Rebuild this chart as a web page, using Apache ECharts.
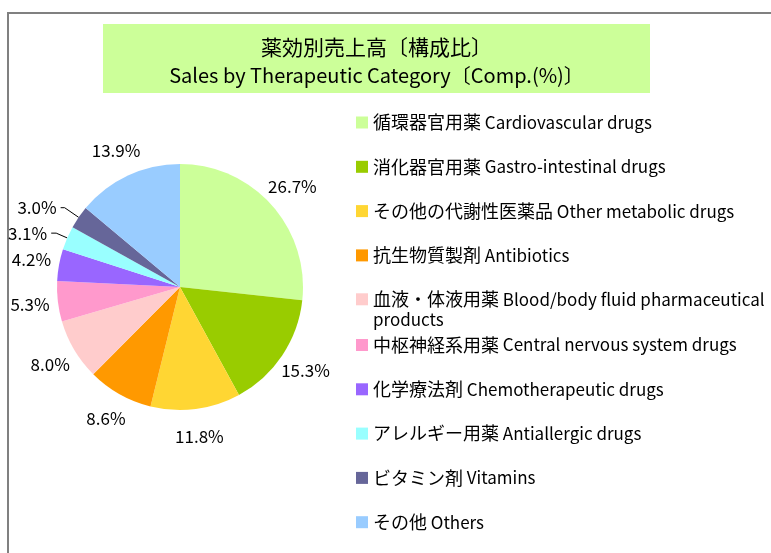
<!DOCTYPE html>
<html>
<head>
<meta charset="utf-8">
<script src="https://cdn.jsdelivr.net/npm/echarts@6/dist/echarts.min.js"></script>
<style>
  html, body { margin: 0; padding: 0; background: #fff; }
  #chart { width: 771px; height: 553px; }
</style>
</head>
<body>
<div id="chart"></div>
<script>
const titleJa = '薬効別売上高〔構成比〕';
const titleEn = 'Sales by Therapeutic Category〔Comp.(%)〕';

const categoriesJa = [
    '循環器官用薬', '消化器官用薬', 'その他の代謝性医薬品', '抗生物質製剤', '血液・体液用薬',
    '中枢神経系用薬', '化学療法剤', 'アレルギー用薬', 'ビタミン剤', 'その他'
];
const categoriesEn = [
    'Cardiovascular drugs', 'Gastro-intestinal drugs', 'Other metabolic drugs', 'Antibiotics',
    'Blood/body fluid pharmaceutical products', 'Central nervous system drugs',
    'Chemotherapeutic drugs', 'Antiallergic drugs', 'Vitamins', 'Others'
];
const shares = [26.7, 15.3, 11.8, 8.6, 8.0, 5.3, 4.2, 3.1, 3.0, 13.9];
const colors = ['#CCFF99', '#99CC00', '#FFD633', '#FF9900', '#FFCCCC',
                '#FF99CC', '#9966FF', '#99FFFF', '#666699', '#99CCFF'];
// small slices whose labels sit out on a leader line: [index, length, length2]
const lineLabelled = [[7, 12, 5], [8, 17, 4]];

const categories = categoriesJa.map(function (ja, i) { return ja + ' ' + categoriesEn[i]; });

const font = '"Noto Sans CJK JP", "Noto Sans", sans-serif';
const pieCenter = [180, 287];
const pieRadius = 123;

document.addEventListener('DOMContentLoaded', function () {
    const myChart = echarts.init(document.getElementById('chart'));

    const fmt = function (p) { return p.value.toFixed(1) + '%'; };

    const findLine = function (i) {
        return lineLabelled.find(function (l) { return l[0] === i; });
    };

    const sliceData = categories.map(function (name, i) {
        const item = { name: name, value: shares[i], itemStyle: { color: colors[i] } };
        const l = findLine(i);
        if (l) {
            item.label = { show: true, position: 'outside' };
            item.labelLine = { show: true, length: l[1], length2: l[2] };
        }
        return item;
    });

    const labelData = categories.map(function (name, i) {
        const item = { name: name, value: shares[i] };
        if (findLine(i)) item.label = { show: false };
        return item;
    });

    // japanese part drawn a little larger, like the original font
    const legendFmt = function (name) {
        const i = categories.indexOf(name);
        let en = categoriesEn[i];
        if (en.indexOf(' products') > 0) {
            // wrap, with an empty first line so the icon stays on line one
            return '\n{j|' + categoriesJa[i] + '}{e| ' + en.replace(' products', '}\n{e|products}');
        }
        return '{j|' + categoriesJa[i] + '}{e| ' + en + '}';
    };

    const legendBase = {
        orient: 'vertical',
        left: 356,
        padding: 0,
        icon: 'rect',
        itemWidth: 12,
        itemHeight: 12,
        itemGap: 24.3,
        selectedMode: false,
        formatter: legendFmt,
        textStyle: {
            fontSize: 17, lineHeight: 20, color: '#000', fontFamily: font,
            rich: {
                j: { fontSize: 18, lineHeight: 20, fontFamily: font, color: '#000' },
                e: { fontSize: 17, lineHeight: 20, fontFamily: font, color: '#000' }
            }
        }
    };

    const option = {
        animation: false,
        backgroundColor: '#fff',
        graphic: [
            {
                type: 'rect',
                z: -1,
                shape: { x: 8, y: 13, width: 900, height: 700 },
                style: { fill: '#fff', stroke: '#808080', lineWidth: 2 }
            },
            {
                type: 'rect',
                shape: { x: 103, y: 24, width: 547, height: 69 },
                style: { fill: '#CCFF99' }
            },
            {
                type: 'text',
                x: 376.5,
                y: 61,
                style: {
                    text: '{a|' + titleJa + '}\n{b|' + titleEn + '}',
                    fontFamily: font,
                    fill: '#000',
                    align: 'center',
                    verticalAlign: 'middle',
                    rich: {
                        a: { fontSize: 21, lineHeight: 28, fontFamily: font, fill: '#000' },
                        b: { fontSize: 20, lineHeight: 28, fontFamily: font, fill: '#000' }
                    }
                }
            }
        ],
        legend: [
            Object.assign({}, legendBase, { top: 112.5, data: categories.slice(0, 4) }),
            Object.assign({}, legendBase, { top: 269.3, data: categories.slice(4, 5) }),
            Object.assign({}, legendBase, { top: 335, data: categories.slice(5) })
        ],
        series: [
            {
                type: 'pie',
                center: pieCenter,
                radius: [0, pieRadius],
                startAngle: 90,
                avoidLabelOverlap: false,
                silent: true,
                itemStyle: { borderWidth: 0 },
                label: {
                    show: false,
                    formatter: fmt,
                    fontSize: 17,
                    fontFamily: font,
                    color: '#000',
                    distanceToLabelLine: 4
                },
                labelLine: { show: false, lineStyle: { color: '#000', width: 1 } },
                data: sliceData
            },
            {
                // transparent twin ring: its inside labels sit at ~148px from centre
                type: 'pie',
                center: pieCenter,
                radius: [0, 296],
                startAngle: 90,
                silent: true,
                legendHoverLink: false,
                itemStyle: { color: 'rgba(0,0,0,0)' },
                label: {
                    show: true,
                    position: 'inside',
                    formatter: fmt,
                    fontSize: 17,
                    fontFamily: font,
                    color: '#000'
                },
                labelLine: { show: false },
                data: labelData
            }
        ]
    };

    myChart.setOption(option);
});
</script>
</body>
</html>
